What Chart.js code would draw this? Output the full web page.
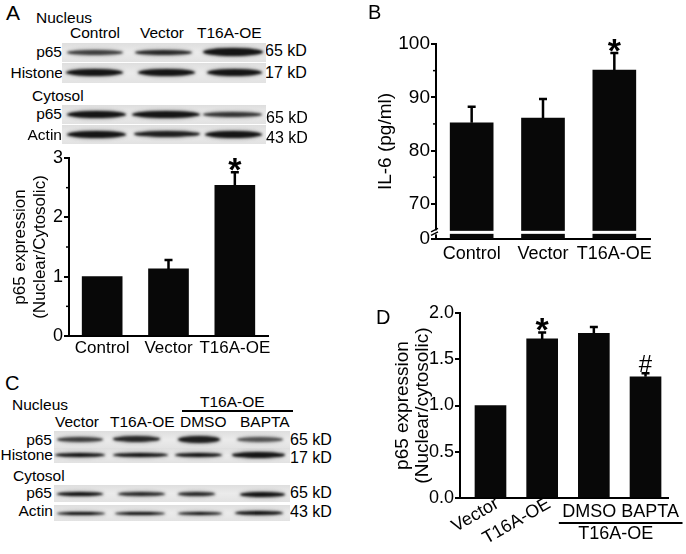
<!DOCTYPE html>
<html>
<head>
<meta charset="utf-8">
<script src="https://cdn.jsdelivr.net/npm/chart.js@4.4.1/dist/chart.umd.min.js"></script>
<style>
  body { margin: 0; width: 686px; height: 554px; background: #fff; position: relative; overflow: hidden;
         font-family: "Liberation Sans", Arial, sans-serif; color: #000; }
  .t { position: absolute; line-height: 1; white-space: nowrap; }
  .strip { position: absolute; background: linear-gradient(#dedede, #ebebeb 50%, #e2e2e2); overflow: hidden; }
  .band { position: absolute; background: #151515; border-radius: 50%; filter: blur(1px);
          box-shadow: 0 0 3px 1px rgba(60, 60, 60, 0.45); }
  canvas { position: absolute; }
</style>
</head>
<body>
<canvas id="chartA" width="290" height="225" style="left:0;top:140px"></canvas>
<canvas id="chartB" width="343" height="277" style="left:343px;top:0"></canvas>
<canvas id="chartD" width="343" height="277" style="left:343px;top:277px"></canvas>
<script>
// Données du panneau A (p65 nucléaire/cytosolique)
const groupsA = ['Control', 'Vector', 'T16A-OE'];
const p65A = [1.0, 1.13, 2.54];
const p65AErr = [0, 0.15, 0.22];
const marksA = ['', '', '*'];
const ticksA = [0, 1, 2, 3];
const minorA = [0.5, 1.5, 2.5];

// Données du panneau B (IL-6)
const groupsB = ['Control', 'Vector', 'T16A-OE'];
const il6 = [85.2, 86.1, 95.1];
const il6Err = [3.0, 3.6, 3.2];
const marksB = ['', '', '*'];
const il6Min = 63.4;
const ticksB = [il6Min, 70, 80, 90, 100];
const minorB = [75, 85, 95];

// Données du panneau D
const groupsD = ['Vector', 'T16A-OE', 'DMSO', 'BAPTA'];
const groupD = 'T16A-OE';
const p65D = [1.0, 1.72, 1.78, 1.31];
const p65DErr = [0, 0.07, 0.07, 0.04];
const marksD = ['', '*', '', '#'];
const ticksD = [0, 0.5, 1.0, 1.5, 2.0];

Chart.defaults.font.family = '"Liberation Sans", Arial, sans-serif';
Chart.defaults.color = '#000';
Chart.defaults.animation = false;

// Textes des panneaux (lettres, blots)
const labels = [
  ['A', 6, 12.5, 21, 'l'], ['Nucleus', 36, 17.5, 15.5, 'l'],
  ['Control', 70, 32.5, 15.5, 'l'], ['Vector', 140, 32.5, 15.5, 'l'], ['T16A-OE', 197, 32.5, 15.5, 'l'],
  ['p65', 62, 52, 15.5, 'r'], ['Histone', 63, 72.5, 15.5, 'r'],
  ['65 kD', 265, 51, 16, 'l'], ['17 kD', 265, 72.5, 16, 'l'],
  ['Cytosol', 32, 96, 15.5, 'l'], ['p65', 62, 114, 15.5, 'r'], ['Actin', 62, 135, 15.5, 'r'],
  ['65 kD', 266, 117.5, 16, 'l'], ['43 kD', 266, 137.5, 16, 'l'],
  ['B', 368, 11.5, 20, 'l'],
  ['C', 5, 383, 20, 'l'], ['Nucleus', 12, 405, 15.5, 'l'], ['T16A-OE', 200, 402, 15.5, 'l'],
  ['Vector', 55, 422, 15.5, 'l'], ['T16A-OE', 110, 422, 15.5, 'l'], ['DMSO', 180, 422, 15.5, 'l'], ['BAPTA', 240, 422, 15.5, 'l'],
  ['p65', 52, 440, 15.5, 'r'], ['Histone', 53, 455, 15.5, 'r'], ['65 kD', 290, 440, 16, 'l'], ['17 kD', 290, 458, 16, 'l'],
  ['Cytosol', 13, 476, 15.5, 'l'], ['p65', 52, 493, 15.5, 'r'], ['Actin', 53, 511, 15.5, 'r'],
  ['65 kD', 290, 493, 16, 'l'], ['43 kD', 290, 512, 16, 'l'],
  ['D', 376, 317, 20, 'l']
];
labels.forEach(([txt, x, cy, size, align]) => {
  const d = document.createElement('div');
  d.className = 't';
  d.textContent = txt;
  d.style.fontSize = size + 'px';
  d.style.left = x + 'px';
  d.style.top = (cy - size / 2) + 'px';
  if (align === 'r') d.style.transform = 'translateX(-100%)';
  document.body.appendChild(d);
});
// trait au-dessus de DMSO / BAPTA (panneau C)
const bar = document.createElement('div');
bar.style.cssText = 'position:absolute;left:182px;top:410px;width:111px;height:2px;background:#000';
document.body.appendChild(bar);

// Bandes des western blots : [x0, x1, centre y, épaisseur, opacité]
function blotRow(x, y, w, h, bands) {
  const strip = document.createElement('div');
  strip.className = 'strip';
  strip.style.cssText = `left:${x}px;top:${y}px;width:${w}px;height:${h}px`;
  bands.forEach(([x0, x1, cy, th, op]) => {
    const b = document.createElement('div');
    b.className = 'band';
    b.style.cssText = `left:${x0 - x}px;top:${cy - y - th / 2}px;width:${x1 - x0}px;height:${th}px;opacity:${op}`;
    strip.appendChild(b);
  });
  document.body.appendChild(strip);
}
blotRow(62, 43, 204, 19, [[67, 123, 52, 5, 0.8], [135, 192, 52, 5, 0.9], [203, 263, 52, 8, 1]]);
blotRow(62, 63, 204, 20, [[66, 123, 72.5, 7, 1], [138, 195, 72.5, 7, 1], [207, 262, 72.5, 7, 1]]);
blotRow(62, 105, 204, 19, [[67, 126, 114, 7, 1], [132, 200, 114, 7, 1], [203, 262, 114, 5, 0.85]]);
blotRow(62, 125, 204, 19, [[67, 126, 134, 7, 1], [134, 200, 134, 6, 0.95], [205, 262, 134, 7, 1]]);
blotRow(54, 431, 236, 17, [[57, 103, 439, 5, 0.8], [113, 160, 439, 6, 0.9], [178, 220, 439, 7, 0.95], [237, 283, 439, 5, 0.7]]);
blotRow(54, 448, 236, 15, [[55, 105, 455, 4, 1], [113, 168, 455, 4, 1], [175, 222, 455, 4, 1], [232, 285, 455, 6, 1]]);
blotRow(54, 485, 236, 17, [[57, 103, 494, 4, 1], [118, 165, 494, 4, 0.9], [178, 215, 494, 4, 0.9], [240, 285, 494, 5, 1]]);
blotRow(54, 505, 236, 16, [[57, 105, 513, 3, 1], [115, 165, 513, 3, 1], [178, 222, 513, 3, 1], [235, 283, 513, 4, 1]]);

// Barres d'erreur (partie haute) + marqueurs de significativité
function errorBarPlugin(values, errors, marks, fonts) {
  return {
    id: 'errorBars',
    afterDatasetsDraw(chart) {
      const ctx = chart.ctx;
      const yScale = chart.scales.y;
      const bars = chart.getDatasetMeta(0).data;
      ctx.save();
      ctx.strokeStyle = '#000';
      ctx.fillStyle = '#000';
      ctx.lineWidth = 2.5;
      bars.forEach((b, i) => {
        let top = b.y;
        if (errors[i] > 0) {
          top = yScale.getPixelForValue(values[i] + errors[i]);
          ctx.beginPath();
          ctx.moveTo(b.x, b.y);
          ctx.lineTo(b.x, top);
          ctx.moveTo(b.x - 4, top);
          ctx.lineTo(b.x + 4, top);
          ctx.stroke();
        }
        if (marks[i]) {
          ctx.font = fonts[marks[i]];
          ctx.textAlign = 'center';
          ctx.textBaseline = 'alphabetic';
          const m = ctx.measureText(marks[i]);
          ctx.fillText(marks[i], b.x, top - 1 - m.actualBoundingBoxDescent);
        }
      });
      ctx.restore();
    }
  };
}

// Petites graduations intermédiaires sur l'axe y
function minorTickPlugin(values) {
  return {
    id: 'minorTicks',
    afterDraw(chart) {
      const ctx = chart.ctx;
      const y = chart.scales.y;
      ctx.save();
      ctx.strokeStyle = '#000';
      ctx.lineWidth = 1.5;
      values.forEach(v => {
        const p = y.getPixelForValue(v);
        ctx.beginPath();
        ctx.moveTo(y.right, p);
        ctx.lineTo(y.right - 3, p);
        ctx.stroke();
      });
      ctx.restore();
    }
  };
}

const fontStar = { '*': 'bold 34px "Liberation Sans", Arial, sans-serif', '#': '24px "Liberation Sans", Arial, sans-serif' };

function yAxis(extra) {
  return Object.assign({
    grid: { display: true, drawOnChartArea: false, drawTicks: true, tickLength: 5, color: '#000', lineWidth: 2 },
    border: { display: true, color: '#000', width: 2 }
  }, extra);
}

// Panneau A
new Chart(document.getElementById('chartA'), {
  type: 'bar',
  data: {
    labels: groupsA,
    datasets: [{ data: p65A, backgroundColor: '#080808', barThickness: 40 }]
  },
  options: {
    responsive: false,
    layout: { padding: { top: 18, right: 22, left: 0, bottom: 0 } },
    plugins: { legend: { display: false }, tooltip: { enabled: false } },
    scales: {
      x: {
        grid: { display: false, drawTicks: false },
        border: { display: true, color: '#000', width: 2 },
        ticks: { font: { size: 17 }, padding: 2, maxRotation: 0, autoSkip: false },
        afterFit: s => { s.height = 29; }
      },
      y: yAxis({
        min: 0, max: 3,
        afterBuildTicks: s => { s.ticks = ticksA.map(v => ({ value: v })); },
        ticks: { font: { size: 18 }, padding: 1 },
        title: { display: true, text: ['p65 expression', '(Nuclear/Cytosolic)'], font: { size: 17 }, padding: { top: 10, bottom: 0 } },
        afterFit: s => { s.width = 69; }
      })
    }
  },
  plugins: [errorBarPlugin(p65A, p65AErr, marksA, fontStar), minorTickPlugin(minorA)]
});

// Panneau B (axe interrompu)
const breakPlugin = {
  id: 'axisBreak',
  afterDatasetsDraw(chart) {
    const { ctx, chartArea, scales: { y } } = chart;
    const py = y.getPixelForValue(64.65);
    ctx.save();
    ctx.fillStyle = '#fff';
    ctx.fillRect(chartArea.left + 2, py - 1.5, chartArea.right - chartArea.left, 3);
    ctx.restore();
  },
  afterDraw(chart) {
    const { ctx, scales: { y } } = chart;
    const py = y.getPixelForValue(64.65);
    const ax = y.right;
    ctx.save();
    ctx.fillStyle = '#fff';
    ctx.fillRect(ax - 2, py - 2, 4, 4);
    ctx.strokeStyle = '#000';
    ctx.lineWidth = 1.5;
    ctx.beginPath();
    ctx.moveTo(ax - 5, py - 0.5); ctx.lineTo(ax + 2, py - 4);
    ctx.moveTo(ax - 5, py + 3); ctx.lineTo(ax + 2, py - 0.5);
    ctx.stroke();
    ctx.restore();
  }
};

new Chart(document.getElementById('chartB'), {
  type: 'bar',
  data: {
    labels: groupsB,
    datasets: [{ data: il6, backgroundColor: '#080808', barThickness: 43 }]
  },
  options: {
    responsive: false,
    layout: { padding: { top: 44, right: 36, left: 0, bottom: 0 } },
    plugins: { legend: { display: false }, tooltip: { enabled: false } },
    scales: {
      x: {
        grid: { display: false, drawTicks: false },
        border: { display: true, color: '#000', width: 2 },
        ticks: { font: { size: 18 }, padding: 4, maxRotation: 0, autoSkip: false },
        afterFit: s => { s.height = 38; }
      },
      y: yAxis({
        min: il6Min, max: 100,
        afterBuildTicks: s => { s.ticks = ticksB.map(v => ({ value: v })); },
        ticks: { font: { size: 19 }, padding: 1, callback: v => (v === il6Min ? '0' : v) },
        title: { display: true, text: 'IL-6 (pg/ml)', font: { size: 19 }, padding: { top: 31.5, bottom: 0 } },
        afterFit: s => { s.width = 93; }
      })
    }
  },
  plugins: [errorBarPlugin(il6, il6Err, marksB, fontStar), minorTickPlugin(minorB), breakPlugin]
});

// Panneau D : étiquettes groupées DMSO/BAPTA sous T16A-OE
const groupLabelPlugin = {
  id: 'groupLabels',
  afterDraw(chart) {
    const { ctx, chartArea } = chart;
    const bars = chart.getDatasetMeta(0).data;
    const mid = (bars[2].x + bars[3].x) / 2;
    const base = chartArea.bottom;
    ctx.save();
    ctx.fillStyle = '#000';
    ctx.strokeStyle = '#000';
    ctx.font = '18px "Liberation Sans", Arial, sans-serif';
    ctx.textAlign = 'center';
    ctx.textBaseline = 'middle';
    ctx.fillText(groupsD[2] + ' ' + groupsD[3], mid + 1, base + 14);
    ctx.lineWidth = 2;
    ctx.beginPath();
    ctx.moveTo(bars[2].x - 35, base + 25);
    ctx.lineTo(bars[3].x + 37, base + 25);
    ctx.stroke();
    ctx.fillText(groupD, mid - 4, base + 36);
    ctx.restore();
  }
};

new Chart(document.getElementById('chartD'), {
  type: 'bar',
  data: {
    datasets: [{ data: groupsD.map((g, i) => ({ x: i, y: p65D[i] })), backgroundColor: '#080808', barThickness: 31 }]
  },
  options: {
    responsive: false,
    layout: { padding: { top: 36, right: 18, left: 0, bottom: 0 } },
    plugins: { legend: { display: false }, tooltip: { enabled: false } },
    scales: {
      x: {
        type: 'linear', min: -0.59, max: 3.435, offset: false,
        afterBuildTicks: s => { s.ticks = groupsD.map((g, i) => ({ value: i })); },
        grid: { display: false, drawTicks: false },
        border: { display: true, color: '#000', width: 2 },
        ticks: { font: { size: 18 }, padding: -5, labelOffset: 7, minRotation: 30, maxRotation: 30, autoSkip: false,
                 callback: v => (v < 2 ? groupsD[v] : '') },
        afterFit: s => { s.height = 56; }
      },
      y: yAxis({
        min: 0, max: 2,
        afterBuildTicks: s => { s.ticks = ticksD.map(v => ({ value: v })); },
        ticks: { font: { size: 18 }, padding: 1, callback: v => v.toFixed(1) },
        title: { display: true, text: ['p65 expression', '(Nuclear/cytosolic)'], font: { size: 19, lineHeight: 1.05 }, padding: { top: 50, bottom: 0 } },
        afterFit: s => { s.width = 117; }
      })
    }
  },
  plugins: [errorBarPlugin(p65D, p65DErr, marksD, fontStar), groupLabelPlugin]
});
</script>
</body>
</html>
